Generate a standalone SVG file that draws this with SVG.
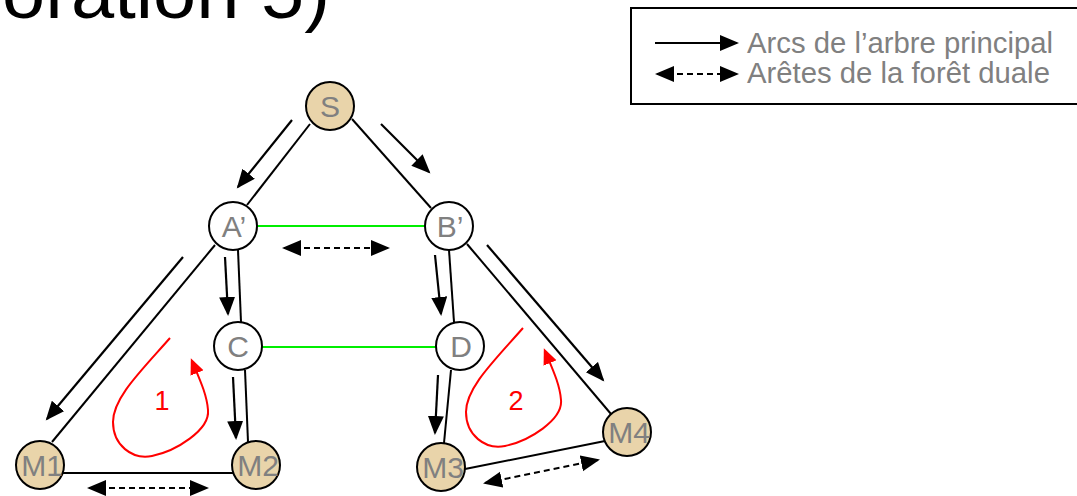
<svg xmlns="http://www.w3.org/2000/svg" width="1077" height="496" viewBox="0 0 1077 496">
<style>
.edge{stroke:#000;stroke-width:2;fill:none}
.green{stroke:#00ee00;stroke-width:2;fill:none}
.arr{stroke:#000;stroke-width:2.2;fill:none;marker-end:url(#ah)}
.dual{stroke:#000;stroke-width:2;fill:none;stroke-dasharray:6 4;marker-start:url(#ah)}
.dual2{marker-end:url(#ah)}
.loop{stroke:#ff0000;stroke-width:2;fill:none;marker-end:url(#rh)}
.node{stroke:#000;stroke-width:2}
.white{fill:#fff}
.tan{fill:#e9d4aa}
.lbl{font-family:"Liberation Sans",Arial,sans-serif;font-size:30px;fill:#808080;text-anchor:middle}
.num{font-family:"Liberation Sans",Arial,sans-serif;font-size:27px;fill:#ff0000;text-anchor:middle}
.leg{font-family:"Liberation Sans",Arial,sans-serif;font-size:29.3px;fill:#808080}
</style>
<defs>
<marker id="ah" markerUnits="userSpaceOnUse" markerWidth="22" markerHeight="18" refX="17" refY="8" orient="auto-start-reverse">
<path d="M0,0 L19,8 L0,16 z" fill="#000"/>
</marker>
<marker id="rh" markerUnits="userSpaceOnUse" markerWidth="18" markerHeight="16" refX="13" refY="7" orient="auto">
<path d="M0,0 L16,7 L0,14 z" fill="#ff0000"/>
</marker>
</defs>
<g id="title">
<text x="2" y="18" font-family="'Liberation Sans',Arial,sans-serif" font-size="74" fill="#000" textLength="328" lengthAdjust="spacingAndGlyphs">oration 5)</text>
</g>
<g id="legend">
<rect x="631" y="8" width="460" height="96" fill="#fff" stroke="#000" stroke-width="2"/>
<line class="arr" x1="655" y1="43" x2="737" y2="43"/>
<line class="dual dual2" x1="657" y1="74" x2="737" y2="74"/>
<text class="leg" x="747" y="53">Arcs de l’arbre principal</text>
<text class="leg" x="747" y="83">Arêtes de la forêt duale</text>
</g>
<g id="connectors">
<line class="edge" x1="310" y1="124" x2="247" y2="205"/>
<line class="edge" x1="352" y1="119" x2="431" y2="208"/>
<line class="green" x1="257" y1="226" x2="425" y2="226"/>
<line class="edge" x1="238" y1="250" x2="241" y2="322"/>
<line class="edge" x1="215" y1="245" x2="52" y2="442"/>
<line class="edge" x1="245" y1="370" x2="248" y2="442"/>
<line class="green" x1="262" y1="347" x2="436" y2="347"/>
<line class="edge" x1="449" y1="250" x2="454" y2="322"/>
<line class="edge" x1="467" y1="244" x2="611" y2="414"/>
<line class="edge" x1="451" y1="370" x2="444" y2="443"/>
<line class="edge" x1="63" y1="473" x2="233" y2="473"/>
<line class="edge" x1="465" y1="469" x2="605" y2="441"/>
<line class="arr" x1="292" y1="120" x2="238" y2="187"/>
<line class="arr" x1="381" y1="124" x2="429" y2="172"/>
<line class="arr" x1="225" y1="257" x2="228" y2="314"/>
<line class="arr" x1="183" y1="257" x2="47" y2="419"/>
<line class="arr" x1="233" y1="377" x2="236" y2="438"/>
<line class="arr" x1="435" y1="255" x2="441" y2="314"/>
<line class="arr" x1="438" y1="375" x2="435" y2="433"/>
<line class="arr" x1="487" y1="245" x2="603" y2="380"/>
<line class="dual dual2" x1="284" y1="248" x2="388" y2="248"/>
<line class="dual dual2" x1="89" y1="488" x2="207" y2="488"/>
<line class="dual dual2" x1="485" y1="483" x2="598" y2="460"/>
<path class="loop" d="M170,338 C140,372 113,398 113,422 C113,445 132,460 152,456 C176,451 210,430 208,410 C207,395 200,380 192,361"/>
<path class="loop" d="M523,328 C493,362 466,388 466,412 C466,435 485,450 505,446 C529,441 563,420 561,400 C560,385 553,370 545,351"/>
</g>
<g id="loop-labels">
<text class="num" x="162" y="410">1</text>
<text class="num" x="516" y="410">2</text>
</g>
<g id="node-S"><circle class="node tan" cx="330" cy="106" r="24"/><text class="lbl" x="330" y="117">S</text></g>
<g id="node-A"><circle class="node white" cx="233" cy="226" r="24"/><text class="lbl" x="234" y="237">A’</text></g>
<g id="node-B"><circle class="node white" cx="449" cy="226" r="24"/><text class="lbl" x="450" y="237">B’</text></g>
<g id="node-C"><circle class="node white" cx="238" cy="346" r="24"/><text class="lbl" x="238" y="357">C</text></g>
<g id="node-D"><circle class="node white" cx="460" cy="346" r="24"/><text class="lbl" x="461" y="357">D</text></g>
<g id="node-M1"><circle class="node tan" cx="40" cy="465" r="24"/><text class="lbl" x="42" y="476">M1</text></g>
<g id="node-M2"><circle class="node tan" cx="256" cy="465" r="24"/><text class="lbl" x="258" y="476">M2</text></g>
<g id="node-M3"><circle class="node tan" cx="441" cy="467" r="24"/><text class="lbl" x="443" y="478">M3</text></g>
<g id="node-M4"><circle class="node tan" cx="627" cy="432" r="24"/><text class="lbl" x="629" y="443">M4</text></g>
</svg>
